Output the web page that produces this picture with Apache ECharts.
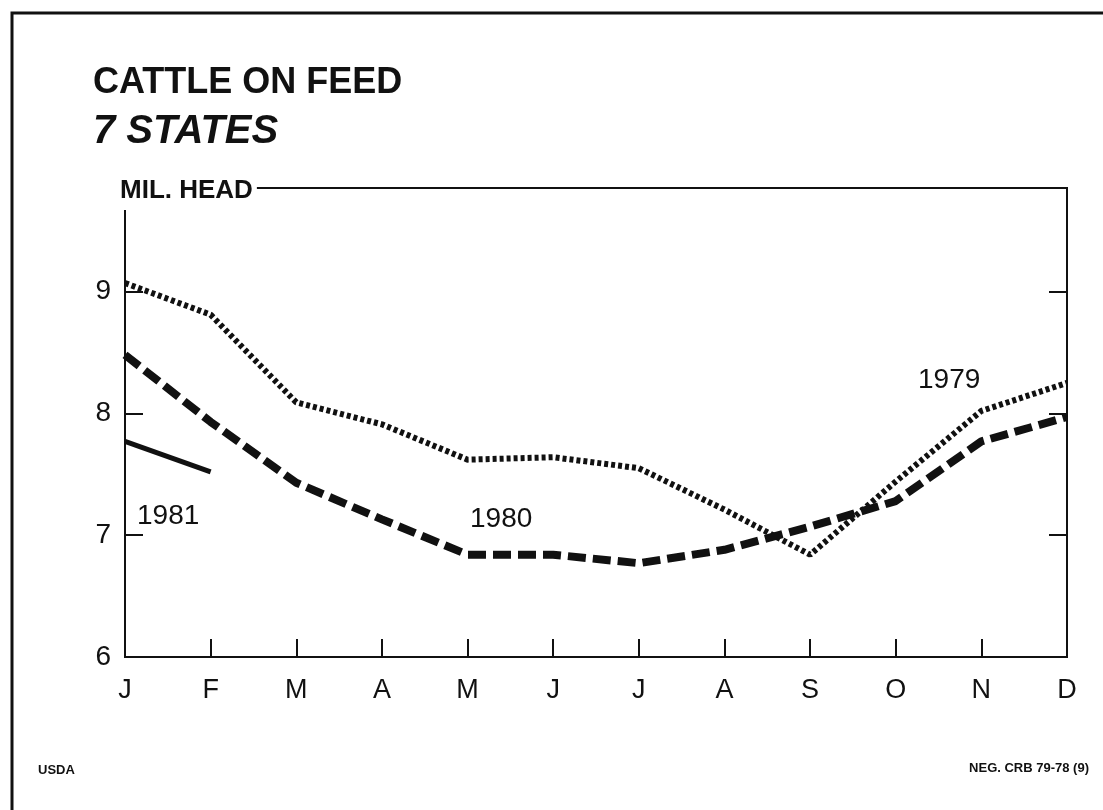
<!DOCTYPE html>
<html lang="en">

<head>
    <meta charset="UTF-8">
    <title>Cattle on feed</title>
    <script src="https://cdn.jsdelivr.net/npm/echarts@6/dist/echarts.min.js"></script>
    <style>
        html, body { margin: 0; padding: 0; background: #fff; }
        #chart { width: 1103px; height: 810px; }
    </style>
</head>

<body>
    <div id="chart"></div>
    <script>
        // months on the x axis
        var months = ['J', 'F', 'M', 'A', 'M', 'J', 'J', 'A', 'S', 'O', 'N', 'D'];

        // million head
        var y1979 = [9.07, 8.81, 8.09, 7.91, 7.62, 7.64, 7.55, 7.21, 6.84, 7.44, 8.02, 8.25];
        var y1980 = [8.48, 7.93, 7.43, 7.13, 6.84, 6.84, 6.77, 6.88, 7.07, 7.28, 7.77, 7.97];
        var y1981 = [7.77, 7.52];

        var yTicks = [6, 7, 8, 9];

        var font = '"Liberation Sans", Arial, Helvetica, sans-serif';
        var ink = '#111';

        var chart = echarts.init(document.getElementById('chart'));

        var valueAxis = function(pos) {
            return {
                type: 'value',
                position: pos,
                min: 6,
                max: 9.85,
                interval: 1,
                axisLine: { show: true, lineStyle: { color: ink, width: 2 } },
                axisTick: { show: true, inside: true, length: 18, lineStyle: { color: ink, width: 2 } },
                splitLine: { show: false },
                axisLabel: {
                    show: pos === 'left',
                    margin: 14,
                    color: ink,
                    fontFamily: font,
                    fontSize: 28,
                    formatter: function(v) {
                        return yTicks.indexOf(v) >= 0 ? String(v) : '';
                    }
                }
            };
        };

        var option = {
            backgroundColor: '#fff',
            animation: false,
            title: [
                {
                    text: 'CATTLE ON FEED',
                    left: 88, top: 60,
                    textStyle: { fontFamily: font, fontSize: 36, fontWeight: 'bold', color: ink }
                },
                {
                    text: '7 STATES',
                    left: 88, top: 107,
                    textStyle: { fontFamily: font, fontSize: 40, fontWeight: 'bold', fontStyle: 'italic', color: ink }
                },
                {
                    // white box hides the top of the left axis behind the unit label
                    text: 'MIL. HEAD',
                    left: 114, top: 172,
                    padding: [6, 4, 6, 6],
                    backgroundColor: '#fff',
                    textStyle: { fontFamily: font, fontSize: 26, fontWeight: 'bold', color: ink }
                }
            ],
            grid: {
                left: 125,
                right: 36,
                top: 188,
                bottom: 153,
                show: true,
                borderColor: ink,
                borderWidth: 2,
                backgroundColor: 'transparent'
            },
            xAxis: {
                type: 'category',
                data: months,
                boundaryGap: false,
                axisLine: { show: true, lineStyle: { color: ink, width: 2 } },
                axisTick: { show: true, inside: true, length: 18, lineStyle: { color: ink, width: 2 } },
                axisLabel: { margin: 20, color: ink, fontFamily: font, fontSize: 27 },
                splitLine: { show: false }
            },
            yAxis: [valueAxis('left'), valueAxis('right')],
            series: [
                {
                    name: '1979',
                    type: 'line',
                    data: y1979,
                    symbol: 'none',
                    lineStyle: { color: ink, width: 6, type: [4, 3], cap: 'butt' },
                    z: 3
                },
                {
                    name: '1980',
                    type: 'line',
                    data: y1980,
                    symbol: 'none',
                    lineStyle: { color: ink, width: 8, type: [18, 7], cap: 'butt' },
                    z: 4
                },
                {
                    name: '1981',
                    type: 'line',
                    data: y1981,
                    symbol: 'none',
                    lineStyle: { color: ink, width: 5 },
                    z: 5
                }
            ],
            graphic: [
                {
                    // outer frame, only left and top edges show
                    type: 'rect',
                    shape: { x: 12, y: 13, width: 1200, height: 900 },
                    style: { fill: null, stroke: ink, lineWidth: 3 },
                    silent: true
                },
                { type: 'text', left: 137, top: 502, style: { text: '1981', font: '28px ' + font, fill: ink } },
                { type: 'text', left: 470, top: 505, style: { text: '1980', font: '28px ' + font, fill: ink } },
                { type: 'text', left: 918, top: 366, style: { text: '1979', font: '28px ' + font, fill: ink } },
                { type: 'text', left: 38, top: 764, style: { text: 'USDA', font: 'bold 13px ' + font, fill: ink } },
                { type: 'text', right: 14, top: 762, style: { text: 'NEG. CRB 79-78 (9)', font: 'bold 13px "Liberation Sans Narrow", ' + font, fill: ink } }
            ]
        };

        chart.setOption(option);
    </script>
</body>

</html>
